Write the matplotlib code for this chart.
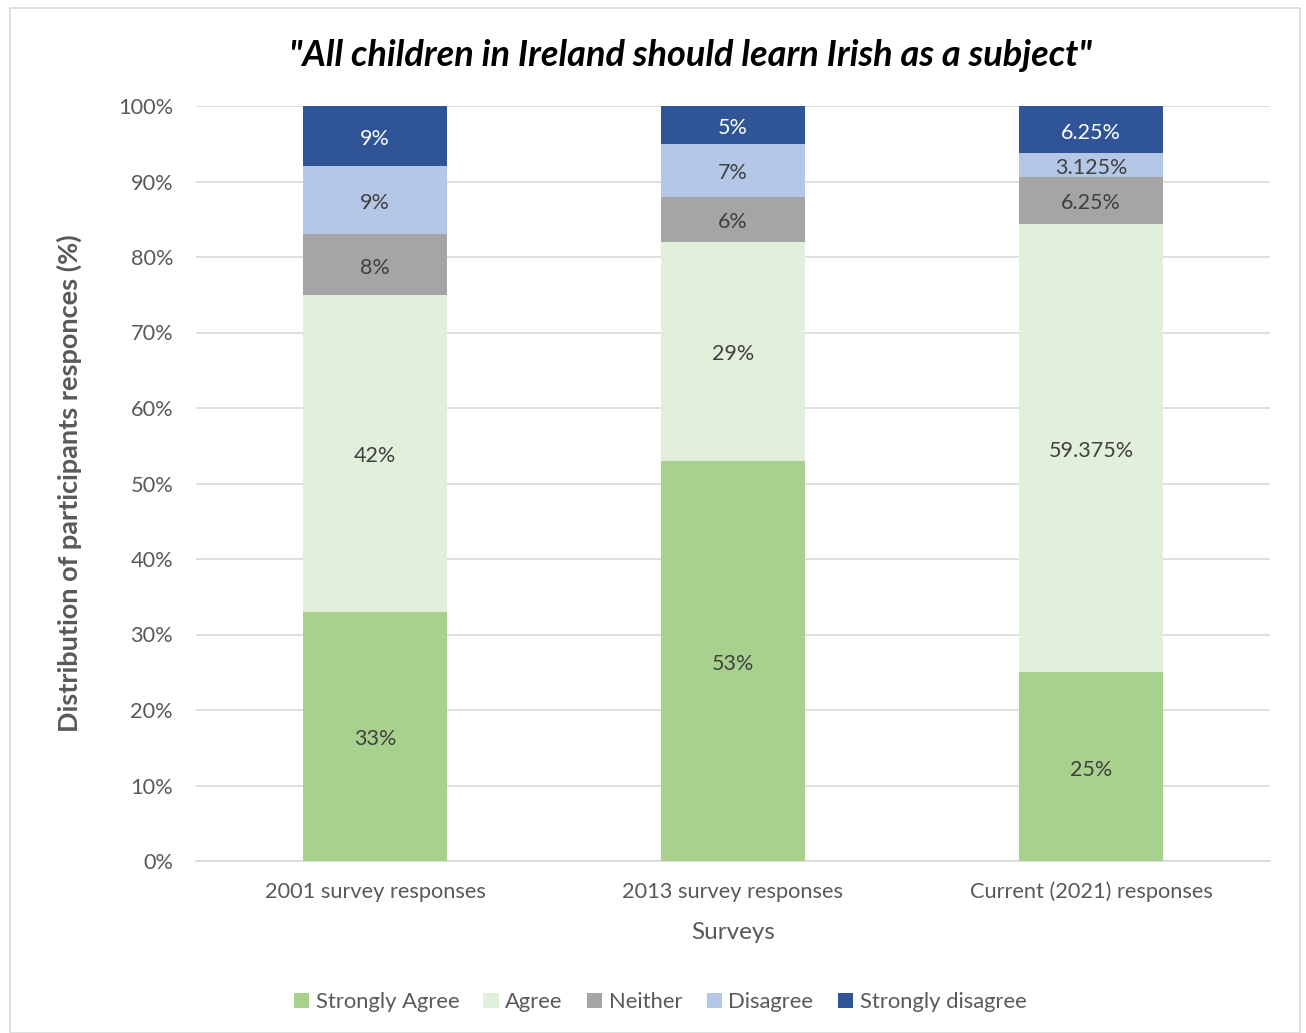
import numpy as np
import matplotlib.pyplot as plt
import matplotlib.transforms as mtrans
from matplotlib.patches import Rectangle

plt.rcParams['font.family'] = ['Lato', 'DejaVu Sans']

surveys = ["2001 survey responses", "2013 survey responses", "Current (2021) responses"]
responses = ["Strongly Agree", "Agree", "Neither", "Disagree", "Strongly disagree"]
strongly_agree = [33, 53, 25]
agree = [42, 29, 59.375]
neither = [8, 6, 6.25]
disagree = [9, 7, 3.125]
strongly_disagree = [9, 5, 6.25]
labels = [["33%", "53%", "25%"],
          ["42%", "29%", "59.375%"],
          ["8%", "6%", "6.25%"],
          ["9%", "7%", "3.125%"],
          ["9%", "5%", "6.25%"]]
colors = ["#a9d18e", "#e2efda", "#a5a5a5", "#b4c7e7", "#2f5597"]
txt_colors = ["#404040", "#404040", "#404040", "#404040", "white"]

vals = np.array([strongly_agree, agree, neither, disagree, strongly_disagree], dtype=float)

fig = plt.figure(figsize=(13.06, 10.33), dpi=100)
fig.patches.append(Rectangle((10/1306, 0), 1290/1306, 1 - 8/1033, transform=fig.transFigure,
                             fill=False, edgecolor="#d9d9d9", linewidth=1.2))
ax = fig.add_axes([196/1306, 1 - 861/1033, (1270-196)/1306, (861-106)/1033])

# nudge data labels down a couple of px
lbl_tr = ax.transData + mtrans.ScaledTranslation(0, -3/100, fig.dpi_scale_trans)

x = np.arange(len(surveys))
bottom = np.zeros(len(surveys))
for i, name in enumerate(responses):
    bars = ax.bar(x, vals[i], 0.4, bottom=bottom, color=colors[i], label=name, zorder=3)
    for j, b in enumerate(bars):
        top = min(bottom[j] + vals[i][j], 100)
        ax.text(b.get_x() + b.get_width()/2, (bottom[j] + top)/2, labels[i][j],
                ha="center", va="center", fontsize=15.5, color=txt_colors[i], zorder=4,
                transform=lbl_tr)
    bottom += vals[i]

ax.set_xlim(-0.5, 2.5)
ax.set_ylim(0, 100)
ax.set_yticks(np.arange(0, 101, 10))
ax.set_yticklabels([f"{v}%" for v in range(0, 101, 10)])
ax.set_xticks(x)
ax.set_xticklabels(surveys)
ax.tick_params(axis="both", length=0, labelsize=15.7, colors="#595959")
ax.tick_params(axis="y", pad=16.5)
ax.tick_params(axis="x", pad=15)
ax.grid(axis="y", color="#d9d9d9", linewidth=1.2, zorder=0)
for s in ["top", "left", "right"]:
    ax.spines[s].set_visible(False)
ax.spines["bottom"].set_color("#d9d9d9")
ax.spines["bottom"].set_linewidth(1.2)

ax.set_xlabel("Surveys", fontsize=17.5, color="#595959", labelpad=14)
ax.set_ylabel("Distribution of participants responces (%)", fontsize=19.5, fontweight="bold",
              color="#595959", labelpad=26)
fig.text(690/1306, 1 - 56/1033, '"All children in Ireland should learn Irish as a subject"',
         ha="center", va="center", fontsize=26, fontweight="bold", style="italic", color="black")

fig.legend(loc="center", bbox_to_anchor=(660/1306, 1 - 1002/1033), ncol=5, frameon=False,
           fontsize=15.8, labelcolor="#595959", handlelength=0.7, handleheight=0.7,
           handletextpad=0.3, columnspacing=1.1)

fig.savefig("out.png", dpi=100)
